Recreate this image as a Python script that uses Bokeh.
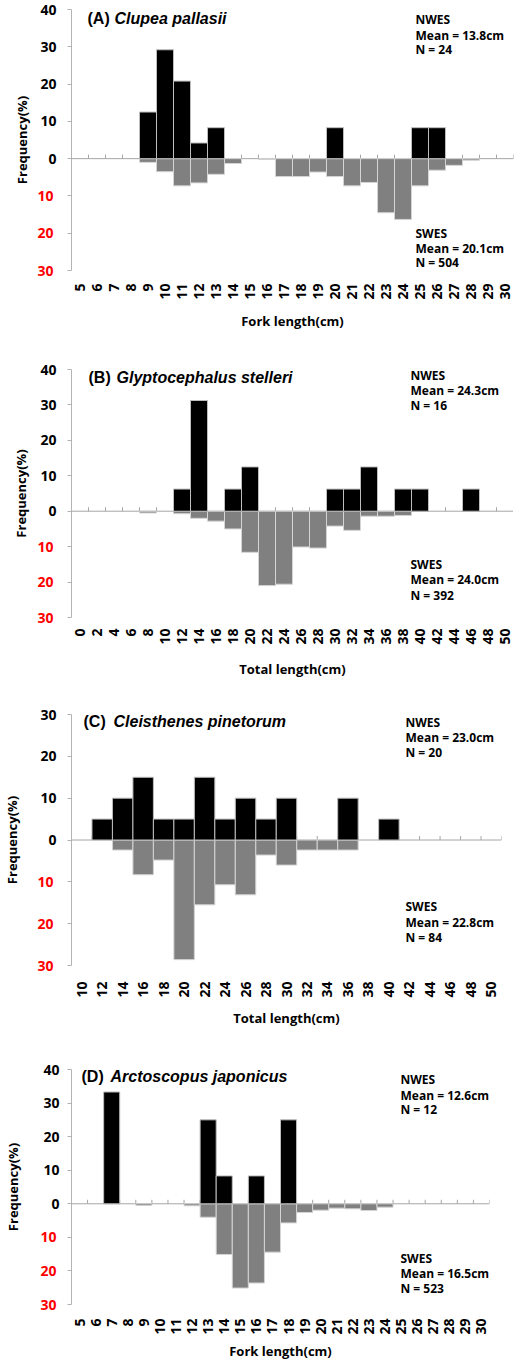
import math
from bokeh.plotting import figure
from bokeh.layouts import column
from bokeh.models import Range1d, FixedTicker, Label, LinearAxis, Span
from bokeh.embed import file_html
from bokeh.resources import INLINE

# ---------------- data ----------------
# (A) Clupea pallasii, fork length 5..30 cm
a_cats = ["5", "6", "7", "8", "9", "10", "11", "12", "13", "14", "15", "16", "17",
          "18", "19", "20", "21", "22", "23", "24", "25", "26", "27", "28", "29", "30"]
a_nwes = [0, 0, 0, 0, 12.5, 29.2, 20.8, 4.2, 8.3, 0, 0, 0, 0,
          0, 0, 8.3, 0, 0, 0, 0, 8.3, 8.3, 0, 0, 0, 0]
a_swes = [0, 0, 0, 0, 1.0, 3.5, 7.3, 6.5, 4.2, 1.3, 0, 0.2, 4.8,
          4.8, 3.6, 4.8, 7.3, 6.4, 14.5, 16.3, 7.3, 3.1, 1.8, 0.4, 0, 0]

# (B) Glyptocephalus stelleri, total length 0..50 cm
b_cats = ["0", "2", "4", "6", "8", "10", "12", "14", "16", "18", "20", "22", "24",
          "26", "28", "30", "32", "34", "36", "38", "40", "42", "44", "46", "48", "50"]
b_nwes = [0, 0, 0, 0, 0, 0, 6.25, 31.25, 0, 6.25, 12.5, 0, 0,
          0, 0, 6.25, 6.25, 12.5, 0, 6.25, 6.25, 0, 0, 6.25, 0, 0]
b_swes = [0, 0, 0, 0, 0.5, 0, 0.7, 2.0, 2.8, 5.0, 11.6, 21.0, 20.6,
          10.1, 10.4, 4.2, 5.4, 1.4, 1.4, 1.2, 0, 0, 0, 0, 0, 0]

# (C) Cleisthenes pinetorum, total length 10..50 cm
c_cats = ["10", "12", "14", "16", "18", "20", "22", "24", "26", "28", "30",
          "32", "34", "36", "38", "40", "42", "44", "46", "48", "50"]
c_nwes = [0, 5, 10, 15, 5, 5, 15, 5, 10, 5, 10,
          0, 0, 10, 0, 5, 0, 0, 0, 0, 0]
c_swes = [0, 0, 2.4, 8.3, 4.8, 28.6, 15.5, 10.7, 13.1, 3.6, 6.0,
          2.4, 2.4, 2.4, 0, 0, 0, 0, 0, 0, 0]

# (D) Arctoscopus japonicus, fork length 5..30 cm
d_cats = ["5", "6", "7", "8", "9", "10", "11", "12", "13", "14", "15", "16", "17",
          "18", "19", "20", "21", "22", "23", "24", "25", "26", "27", "28", "29", "30"]
d_nwes = [0, 0, 33.3, 0, 0, 0, 0, 0, 25, 8.3, 0, 8.3, 0,
          25, 0, 0, 0, 0, 0, 0, 0, 0, 0, 0, 0, 0]
d_swes = [0, 0, 0, 0, 0.5, 0, 0, 0.6, 4.0, 15.1, 25.1, 23.6, 14.4,
          5.7, 2.6, 1.9, 1.3, 1.5, 2.0, 1.0, 0, 0, 0, 0, 0, 0]

a_text = ["(A)", "Clupea pallasii", "Fork length(cm)",
          ["NWES", "Mean = 13.8cm", "N = 24"], ["SWES", "Mean = 20.1cm", "N = 504"]]
b_text = ["(B)", "Glyptocephalus stelleri", "Total length(cm)",
          ["NWES", "Mean = 24.3cm", "N = 16"], ["SWES", "Mean = 24.0cm", "N = 392"]]
c_text = ["(C)", "Cleisthenes pinetorum", "Total length(cm)",
          ["NWES", "Mean = 23.0cm", "N = 20"], ["SWES", "Mean = 22.8cm", "N = 84"]]
d_text = ["(D)", "Arctoscopus japonicus", "Fork length(cm)",
          ["NWES", "Mean = 12.6cm", "N = 12"], ["SWES", "Mean = 16.5cm", "N = 523"]]

y_ticks_40 = [-30, -20, -10, 0, 10, 20, 30, 40]
y_ticks_30 = [-30, -20, -10, 0, 10, 20, 30]

FONT = "Open Sans"
TFONT = "Liberation Sans"
AXC = "#b3b3b3"
TICK_FS = "14px"
LABEL_W = 16  # pixel width of a two-digit tick label at TICK_FS


def style_ticklabels(ax, color="black"):
    ax.major_label_text_font = FONT
    ax.major_label_text_font_style = "bold"
    ax.major_label_text_font_size = TICK_FS
    ax.major_label_text_color = color


def style_title(ax, text, standoff):
    ax.axis_label = text
    ax.axis_label_standoff = standoff
    ax.axis_label_text_font = FONT
    ax.axis_label_text_font_style = "bold"
    ax.axis_label_text_font_size = "13px"
    ax.axis_label_text_color = "black"


def panel(cats, nwes, swes, yticks, texts, lay):
    n = len(cats)
    ymax = yticks[-1]
    p = figure(frame_width=lay["fw"], frame_height=lay["fh"],
               x_range=Range1d(0.5, n + 0.5), y_range=Range1d(yticks[0], ymax),
               output_backend="svg", toolbar_location=None,
               min_border_left=lay["bl"], min_border_right=lay["br"],
               min_border_top=lay["bt"], min_border_bottom=lay["bb"],
               background_fill_color="white", border_fill_color="white")
    p.xgrid.visible = False
    p.ygrid.visible = False
    p.outline_line_color = None

    xs = list(range(1, n + 1))
    # zero line and category tick marks
    p.add_layout(Span(location=0, dimension="width", line_color="#a6a6a6",
                      line_width=1, level="underlay"))
    tick_h = 4 * (ymax - yticks[0]) / lay["fh"]
    bnd = [i + 0.5 for i in range(n + 1)]
    p.segment(x0=bnd, x1=bnd, y0=[0] * len(bnd), y1=[tick_h] * len(bnd),
              line_color="#a6a6a6", line_width=1)

    nx = [x for x, v in zip(xs, nwes) if v > 0]
    nv = [v for v in nwes if v > 0]
    sx = [x for x, v in zip(xs, swes) if v > 0]
    sv = [-v for v in swes if v > 0]
    p.vbar(x=sx, width=1, top=0, bottom=sv, fill_color="#808080",
           line_color="#d4d4d4", line_width=1)
    p.vbar(x=nx, width=1, top=nv, bottom=0, fill_color="#000000",
           line_color="#bdbdbd", line_width=1)

    # x axis (category labels at the bottom)
    xa = p.xaxis[0]
    xa.ticker = FixedTicker(ticks=xs)
    xa.major_label_overrides = {x: c for x, c in zip(xs, cats)}
    xa.major_label_orientation = math.pi / 2
    xa.axis_line_color = None
    xa.major_tick_line_color = None
    xa.minor_tick_line_color = None
    xa.major_label_standoff = lay["xls"]
    style_ticklabels(xa)
    style_title(xa, texts[2], lay["xts"])

    # inner y axis: line, ticks and black labels for the upper (NWES) half
    ya = p.yaxis[0]
    ya.ticker = FixedTicker(ticks=yticks)
    ya.major_label_overrides = {t: "" for t in yticks if t < 0}
    ya.axis_line_color = AXC
    ya.major_tick_line_color = AXC
    ya.major_tick_out = 4
    ya.major_tick_in = 0
    ya.minor_tick_line_color = None
    ya.major_label_standoff = lay["yls"]
    style_ticklabels(ya)

    # outer y axis: red labels for the lower (SWES) half, pulled back onto the
    # inner label column, plus the axis title
    neg = [t for t in yticks if t < 0]
    ra = LinearAxis(ticker=FixedTicker(ticks=neg),
                    major_label_overrides={t: str(-t) for t in neg},
                    axis_line_color=None, major_tick_line_color=None,
                    minor_tick_line_color=None, major_tick_out=0, major_tick_in=0,
                    major_label_standoff=-LABEL_W)
    style_ticklabels(ra, "#ff0000")
    style_title(ra, "Frequency(%)", lay["yts"])
    p.add_layout(ra, "left")

    # panel title
    p.add_layout(Label(x=0.5, y=lay["ty"], x_offset=lay["tx1"], text=texts[0],
                       text_font=TFONT, text_font_style="bold", text_font_size="16px",
                       text_baseline="middle", text_align="left", text_color="black"))
    p.add_layout(Label(x=0.5, y=lay["ty"], x_offset=lay["tx2"], text=texts[1],
                       text_font=TFONT, text_font_style="bold italic",
                       text_font_size="16px", text_baseline="middle",
                       text_align="left", text_color="black"))
    # stats
    for lines, ys in ((texts[3], lay["nys"]), (texts[4], lay["sys"])):
        for t, yy in zip(lines, ys):
            p.add_layout(Label(x=0.5, y=yy, x_offset=lay["sx"], text=t,
                               text_font=FONT, text_font_style="bold",
                               text_font_size="12px", text_baseline="middle",
                               text_align="left", text_color="black"))
    return p


lay_a = dict(fw=442, fh=261, bl=57, br=14, bt=9, bb=62, xls=7, xts=9, yls=11, yts=3,
             ty=37.5, tx1=16, tx2=43, sx=344, nys=[37.3, 33.0, 29.2], sys=[-20.1, -24.1, -27.9])
lay_b = dict(fw=442, fh=248, bl=62, br=9, bt=37, bb=68, xls=5, xts=12, yls=11, yts=4,
             ty=37.7, tx1=17, tx2=45, sx=339, nys=[38.3, 34.0, 29.9], sys=[-14.9, -19.4, -23.7])
lay_c = dict(fw=430, fh=251, bl=67, br=10, bt=29, bb=70, xls=10, xts=8, yls=11, yts=13,
             ty=28.3, tx1=12, tx2=42, sx=334, nys=[28.1, 24.5, 20.9], sys=[-15.8, -19.7, -23.3])
lay_d = dict(fw=418, fh=235, bl=71, br=18, bt=34, bb=45, xls=8, xts=4, yls=8, yts=15,
             ty=37.9, tx1=10, tx2=39, sx=329, nys=[37.0, 32.2, 28.0], sys=[-16.2, -20.8, -25.3])

pa = panel(a_cats, a_nwes, a_swes, y_ticks_40, a_text, lay_a)
pb = panel(b_cats, b_nwes, b_swes, y_ticks_40, b_text, lay_b)
pc = panel(c_cats, c_nwes, c_swes, y_ticks_30, c_text, lay_c)
pd = panel(d_cats, d_nwes, d_swes, y_ticks_40, d_text, lay_d)

layout = column(pa, pb, pc, pd, spacing=0)
open("out.html", "w").write(file_html(layout, INLINE))
